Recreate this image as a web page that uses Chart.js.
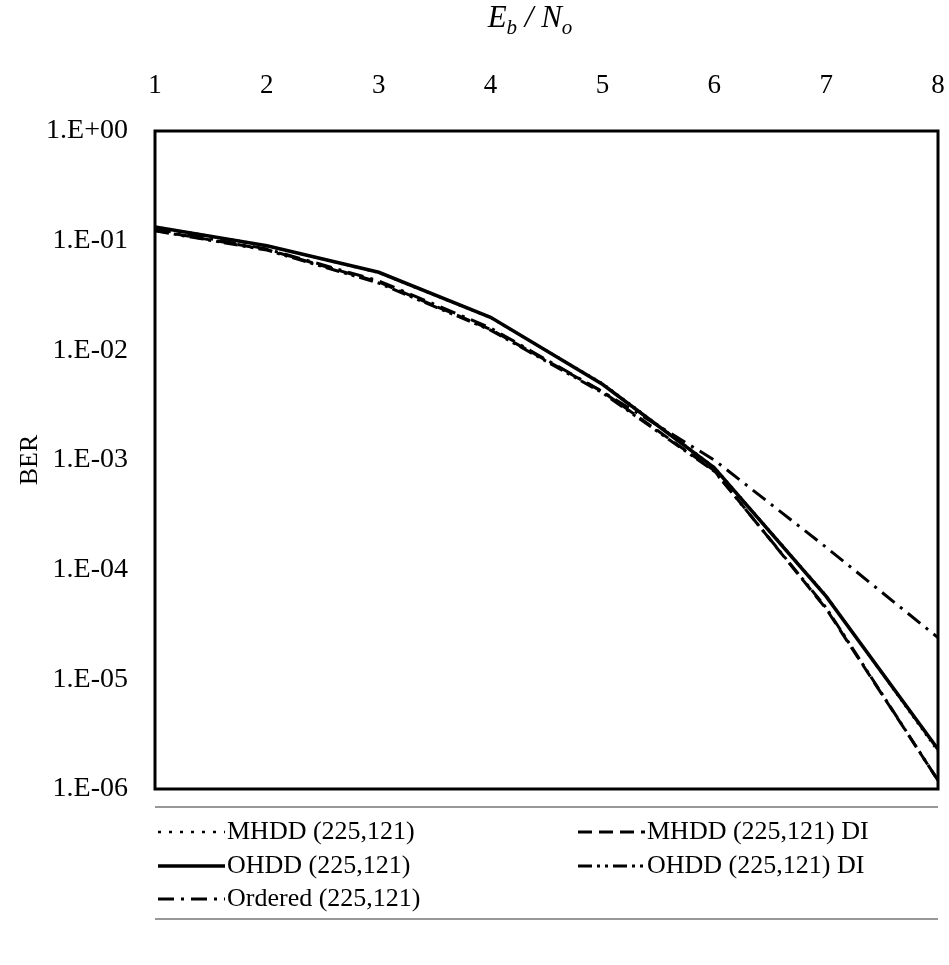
<!DOCTYPE html>
<html>
<head>
<meta charset="utf-8">
<script src="https://cdn.jsdelivr.net/npm/chart.js@4.4.1/dist/chart.umd.min.js"></script>
<style>
  html, body { margin: 0; padding: 0; background: #fff; overflow: hidden; }
  #wrap { width: 949px; height: 965px; position: relative; }
</style>
</head>
<body>
<div id="wrap"><canvas id="berChart"></canvas></div>
<script>
// Eb/No points
const snrValues = [1, 2, 3, 4, 5, 6, 7, 8];

// BER curves
const mhddBer     = [0.134, 0.090, 0.051, 0.0198, 0.0050, 0.00086, 0.000058, 0.0000022];
const mhddDiBer   = [0.124, 0.083, 0.042, 0.0155, 0.0042, 0.00080, 0.000044, 0.0000012];
const ohddBer     = [0.133, 0.090, 0.0515, 0.0200, 0.0049, 0.00085, 0.000057, 0.0000023];
const ohddDiBer   = [0.123, 0.082, 0.041, 0.0153, 0.0041, 0.00079, 0.000045, 0.0000012];
const orderedBer  = [0.128, 0.084, 0.043, 0.0160, 0.0042, 0.00100, 0.000160, 0.0000240];

const seriesNames = [
  "MHDD (225,121)",
  "MHDD (225,121) DI",
  "OHDD (225,121)",
  "OHDD (225,121) DI",
  "Ordered (225,121)"
];

const yTickValues = [1, 1e-1, 1e-2, 1e-3, 1e-4, 1e-5, 1e-6];
const yTickLabels = ["1.E+00", "1.E-01", "1.E-02", "1.E-03", "1.E-04", "1.E-05", "1.E-06"];

const SERIF = '"Liberation Serif", "Times New Roman", serif';

function toPoints(values) {
  return snrValues.map((x, i) => ({ x: x, y: values[i] }));
}

// frame, title and 2-column legend
const extrasPlugin = {
  id: "extras",
  afterDatasetsDraw(chart) {
    const { ctx, chartArea: a } = chart;
    ctx.save();
    ctx.strokeStyle = "#000";
    ctx.lineWidth = 3;
    ctx.strokeRect(a.left, a.top, a.right - a.left, a.bottom - a.top);
    ctx.restore();
  },
  afterDraw(chart) {
    const { ctx, chartArea: a } = chart;
    ctx.save();

    // title  E_b / N_o
    const big = "italic 31px " + SERIF;
    const small = "italic 21px " + SERIF;
    const parts = [
      { t: "E", f: big, dy: 0 },
      { t: "b", f: small, dy: 7 },
      { t: " / ", f: big, dy: 0 },
      { t: "N", f: big, dy: 0 },
      { t: "o", f: small, dy: 7 }
    ];
    let total = 0;
    parts.forEach(p => { ctx.font = p.f; p.w = ctx.measureText(p.t).width; total += p.w; });
    let tx = 530 - total / 2;
    const baseY = 27;
    ctx.fillStyle = "#000";
    ctx.textBaseline = "alphabetic";
    parts.forEach(p => {
      ctx.font = p.f;
      ctx.fillText(p.t, tx, baseY + p.dy);
      tx += p.w;
    });

    // legend box lines
    ctx.strokeStyle = "#777";
    ctx.lineWidth = 1.5;
    ctx.beginPath();
    ctx.moveTo(a.left, a.bottom + 18);
    ctx.lineTo(a.right, a.bottom + 18);
    ctx.moveTo(a.left, a.bottom + 130);
    ctx.lineTo(a.right, a.bottom + 130);
    ctx.stroke();

    // legend items
    const colX = [a.left + 3, a.left + 423];
    const rowY = [a.bottom + 43, a.bottom + 77, a.bottom + 110];
    const sampleLen = 67;
    chart.data.datasets.forEach((ds, i) => {
      const x = colX[i % 2];
      const y = rowY[Math.floor(i / 2)];
      ctx.strokeStyle = "#000";
      ctx.lineWidth = ds.borderWidth;
      ctx.setLineDash(ds.legendDash || ds.borderDash || []);
      ctx.beginPath();
      ctx.moveTo(x, y);
      ctx.lineTo(x + sampleLen, y);
      ctx.stroke();
      ctx.setLineDash([]);
      ctx.font = "26px " + SERIF;
      ctx.textBaseline = "middle";
      ctx.fillStyle = "#000";
      ctx.fillText(ds.label, x + sampleLen + 2, y);
    });
    ctx.restore();
  }
};

const ctx = document.getElementById("berChart").getContext("2d");

const chart = new Chart(ctx, {
  type: "line",
  data: {
    datasets: [
      {
        label: seriesNames[0],
        data: toPoints(mhddBer),
        borderColor: "#000",
        borderWidth: 2.5,
        borderDash: [2, 5],
        legendDash: [3, 8]
      },
      {
        label: seriesNames[1],
        data: toPoints(mhddDiBer),
        borderColor: "#000",
        borderWidth: 3,
        borderDash: [14, 7]
      },
      {
        label: seriesNames[2],
        data: toPoints(ohddBer),
        borderColor: "#000",
        borderWidth: 3.5
      },
      {
        label: seriesNames[3],
        data: toPoints(ohddDiBer),
        borderColor: "#000",
        borderWidth: 3,
        borderDash: [14, 5, 3, 5, 3, 5]
      },
      {
        label: seriesNames[4],
        data: toPoints(orderedBer),
        borderColor: "#000",
        borderWidth: 3,
        borderDash: [16, 7, 3, 7]
      }
    ]
  },
  options: {
    responsive: true,
    maintainAspectRatio: false,
    animation: false,
    layout: {
      padding: { top: 50, left: 0, right: 11, bottom: 176 }
    },
    elements: {
      point: { radius: 0, hoverRadius: 0 },
      line: { tension: 0, fill: false }
    },
    plugins: {
      legend: { display: false },
      tooltip: { enabled: false }
    },
    scales: {
      x: {
        type: "linear",
        position: "top",
        min: 1,
        max: 8,
        grid: { display: false, drawTicks: false },
        border: { display: false },
        ticks: {
          stepSize: 1,
          padding: 29,
          color: "#000",
          font: { family: SERIF, size: 27 }
        },
        afterFit(axis) {
          axis.height = 81;
          axis.paddingLeft = 0;
          axis.paddingRight = 0;
        }
      },
      y: {
        type: "logarithmic",
        position: "left",
        min: 1e-6,
        max: 1,
        grid: { display: false, drawTicks: false },
        border: { display: false },
        afterBuildTicks(axis) {
          axis.ticks = yTickValues.map(v => ({ value: v }));
        },
        ticks: {
          padding: 27,
          color: "#000",
          font: { family: SERIF, size: 28 },
          callback(value) {
            const idx = yTickValues.findIndex(v => Math.abs(Math.log10(v) - Math.log10(value)) < 1e-6);
            return idx >= 0 ? yTickLabels[idx] : "";
          }
        },
        title: {
          display: true,
          text: "BER",
          color: "#000",
          font: { family: SERIF, size: 26 },
          padding: { top: 15, bottom: 0 }
        },
        afterFit(axis) { axis.width = 155; }
      }
    }
  },
  plugins: [extrasPlugin]
});
</script>
</body>
</html>
